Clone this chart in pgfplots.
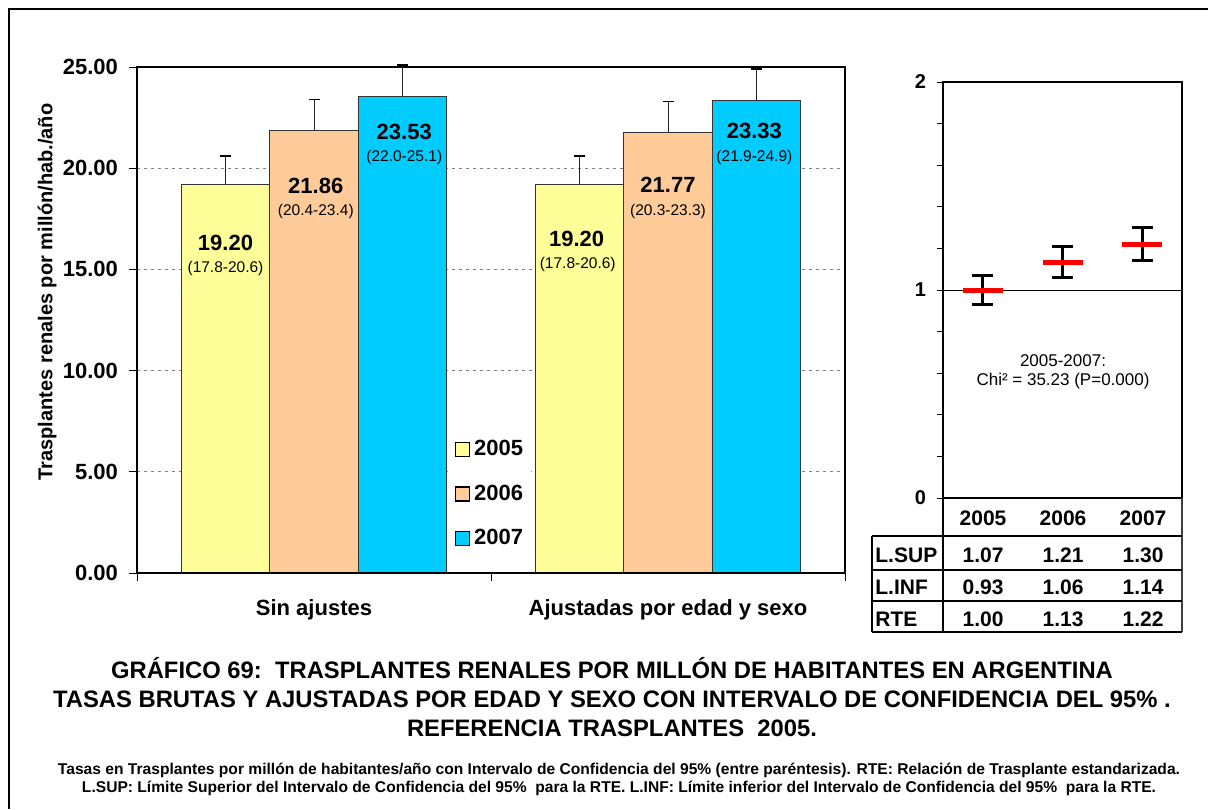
\documentclass[border=0pt]{standalone}
\usepackage{fontspec}
\setmainfont{Liberation Sans}
\usepackage{pgfplots}
\pgfplotsset{compat=1.18}
\definecolor{c05}{HTML}{FFFF99}
\definecolor{c06}{HTML}{FFCC99}
\definecolor{c07}{HTML}{00CCFF}
\pgfplotsset{
  mybar/.style={ybar, bar width=0.25, bar shift=0pt, fill=#1, draw=black!80, line width=0.5pt,
    legend image code/.code={\draw[fill=#1, draw=black, line width=0.6pt] (0pt,-3.5pt) rectangle (7pt,3.5pt);},
    error bars/.cd, y dir=plus, y explicit,
    error bar style={black!85, line width=0.5pt},
    error mark options={rotate=90, mark size=2.75pt, line width=0.6pt, black}},
}
\begin{document}
\begin{tikzpicture}
\useasboundingbox (0,0) rectangle (604pt,-404.5pt);
% ---------- left chart ----------
\begin{axis}[
  at={(68.5pt,-286.5pt)}, anchor=south west,
  scale only axis, width=354pt, height=253pt,
  xmin=-0.5, xmax=1.5, ymin=0, ymax=25,
  xtick={-0.5,0.5,1.5}, xticklabels=\empty,
  extra x ticks={0,1}, extra x tick labels={Sin ajustes, Ajustadas por edad y sexo},
  extra x tick style={major tick length=0pt, grid=none, xticklabel style={yshift=-9.5pt}},
  ytick={0,5,10,15,20,25},
  tick align=outside,
  major tick length=4pt,
  xtick pos=bottom, ytick pos=left,
  tick style={black, line width=0.5pt},
  axis line style={black, line width=0.6pt},
  ymajorgrids,
  grid style={gray, dash pattern=on 1.5pt off 2pt, line width=0.5pt},
  /pgf/number format/assume math mode=true,
  yticklabel style={/pgf/number format/fixed, /pgf/number format/fixed zerofill, /pgf/number format/precision=2},
  ticklabel style={font=\fontsize{11}{13}\selectfont\bfseries},
  yticklabel style={xshift=-2pt},
  legend style={at={(0.443,0.156)}, anchor=west, fill=white, draw=none,
    font=\fontsize{11}{13}\selectfont\bfseries, row sep=9pt, inner xsep=2pt},
  legend cell align=left,
  clip=false,
]
\addplot[mybar=c05] coordinates {(-0.25,19.20) +- (0,1.40) (0.75,19.20) +- (0,1.40)};
\addplot[mybar=c06] coordinates {(0,21.86) +- (0,1.54) (1,21.77) +- (0,1.53)};
\addplot[mybar=c07] coordinates {(0.25,23.53) +- (0,1.57) (1.25,23.33) +- (0,1.57)};
\legend{2005,2006,2007}
\draw[line width=1pt] (rel axis cs:0,0) -- (rel axis cs:1,0);
% value labels
\begin{scope}[every node/.style={inner sep=0pt}]
\node[font=\fontsize{11}{13}\selectfont\bfseries] at (axis cs:-0.25,16.30) {19.20};
\node[font=\fontsize{7.75}{9}\selectfont] at (axis cs:-0.25,15.07) {(17.8-20.6)};
\node[font=\fontsize{11}{13}\selectfont\bfseries] at (axis cs:0.005,19.12) {21.86};
\node[font=\fontsize{7.75}{9}\selectfont] at (axis cs:0.005,17.84) {(20.4-23.4)};
\node[font=\fontsize{11}{13}\selectfont\bfseries] at (axis cs:0.255,21.79) {23.53};
\node[font=\fontsize{7.75}{9}\selectfont] at (axis cs:0.255,20.55) {(22.0-25.1)};
\node[font=\fontsize{11}{13}\selectfont\bfseries] at (axis cs:0.742,16.50) {19.20};
\node[font=\fontsize{7.75}{9}\selectfont] at (axis cs:0.745,15.22) {(17.8-20.6)};
\node[font=\fontsize{11}{13}\selectfont\bfseries] at (axis cs:1.0,19.17) {21.77};
\node[font=\fontsize{7.75}{9}\selectfont] at (axis cs:1.0,17.88) {(20.3-23.3)};
\node[font=\fontsize{11}{13}\selectfont\bfseries] at (axis cs:1.244,21.84) {23.33};
\node[font=\fontsize{7.75}{9}\selectfont] at (axis cs:1.244,20.55) {(21.9-24.9)};
\end{scope}
\end{axis}
% ---------- right chart ----------
\begin{axis}[
  at={(471.5pt,-249pt)}, anchor=south west,
  scale only axis, width=119.5pt, height=208pt,
  xmin=0.5, xmax=3.5, ymin=0, ymax=2,
  xtick=\empty,
  ytick={0,1,2}, minor ytick={0.2,0.4,0.6,0.8,1.2,1.4,1.6,1.8},
  ytick pos=left, tick align=outside,
  major tick length=3pt, minor tick length=3pt,
  tick style={black, line width=0.5pt},
  axis line style={black, line width=0.6pt},
  /pgf/number format/assume math mode=true,
  ticklabel style={font=\fontsize{10}{12}\selectfont\bfseries},
  yticklabel style={xshift=-2pt},
  clip=false,
  unbounded coords=jump,
]
\addplot[black, line width=0.5pt] coordinates {(0.5,1) (3.5,1)};
% confidence intervals L.INF - L.SUP
\addplot[black, line width=1.5pt, mark=-, mark size=5.25pt, mark options={line width=1.5pt}]
  coordinates {(1,0.93) (1,1.07) (1,nan) (2,1.06) (2,1.21) (2,nan) (3,1.14) (3,1.30)};
% RTE
\addplot[only marks, mark=-, mark size=10pt, mark options={red, line width=2.5pt}]
  coordinates {(1,1.00) (2,1.13) (3,1.22)};
\draw[line width=1pt] (rel axis cs:0,0) -- (rel axis cs:1,0);
\end{axis}
% ---------- pixel-based decorations ----------
\begin{scope}[x=0.5pt, y=-0.5pt]
\draw[line width=0.8pt] (9,809) -- (9,9) -- (1208,9);
\node[rotate=90, font=\fontsize{10}{12}\selectfont\bfseries] at (47,292) {Trasplantes renales por millón/hab./año};
% table
\draw[line width=0.6pt] (943,498) -- (943,632);
\draw[line width=0.6pt, black!75] (1182,498) -- (1182,632);
\foreach \yy in {536,570,601,632} {\draw[line width=0.6pt] (872,\yy) -- (1182,\yy);}
\draw[line width=0.6pt] (872,536) -- (872,632);
\begin{scope}[every node/.style={font=\fontsize{10.5}{12}\selectfont\bfseries, inner sep=0pt}]
\node at (983,518) {2005}; \node at (1063,518) {2006}; \node at (1143,518) {2007};
\node[anchor=west] at (875,555) {L.SUP};
\node at (983,555) {1.07}; \node at (1063,555) {1.21}; \node at (1143,555) {1.30};
\node[anchor=west] at (875,587) {L.INF};
\node at (983,587) {0.93}; \node at (1063,587) {1.06}; \node at (1143,587) {1.14};
\node[anchor=west] at (875,619) {RTE};
\node at (983,619) {1.00}; \node at (1063,619) {1.13}; \node at (1143,619) {1.22};
\end{scope}
\node[align=center, font=\fontsize{8.5}{9.5}\selectfont] at (1063,372) {2005-2007:\\Chi² = 35.23 (P=0.000)};
% title
\node[align=center, font=\fontsize{11.9}{14.3}\selectfont\bfseries] at (612,697)
  {GRÁFICO 69:\ \ TRASPLANTES RENALES POR MILLÓN DE HABITANTES EN ARGENTINA\\
   TASAS BRUTAS Y AJUSTADAS POR EDAD Y SEXO CON INTERVALO DE CONFIDENCIA DEL 95\% .\\
   REFERENCIA TRASPLANTES\ \ 2005.};
\node[align=center, font=\fontsize{7.8}{9}\selectfont\bfseries] at (619,779)
  {Tasas en Trasplantes por millón de habitantes/año con Intervalo de Confidencia del 95\% (entre paréntesis). RTE: Relación de Trasplante estandarizada.\\
   L.SUP: Límite Superior del Intervalo de Confidencia del 95\%\ \ para la RTE. L.INF: Límite inferior del Intervalo de Confidencia del 95\%\ \ para la RTE.};
\end{scope}
\end{tikzpicture}
\end{document}
